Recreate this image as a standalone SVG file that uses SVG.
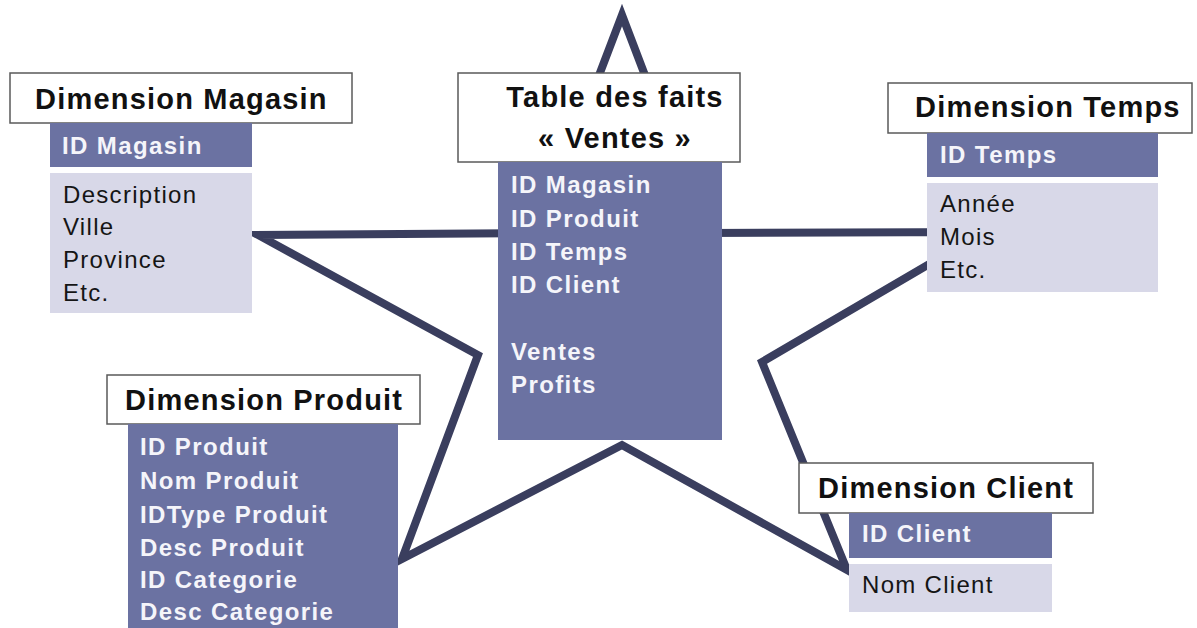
<svg xmlns="http://www.w3.org/2000/svg" width="1197" height="628" viewBox="0 0 1197 628">
<style>
.title{fill:#fff;stroke:#5a5a5a;stroke-width:1.5}
.tt{font-family:"Liberation Sans",Arial,sans-serif;font-weight:bold;font-size:29px;letter-spacing:1.2px;fill:#111}
.key{fill:#6b72a2}
.attr{fill:#d8d8e8}
.kt{font-family:"Liberation Sans",Arial,sans-serif;font-weight:bold;font-size:24px;letter-spacing:1.4px;fill:#f5f5fa}
.at{font-family:"Liberation Sans",Arial,sans-serif;font-size:24px;letter-spacing:1.3px;fill:#151515}
.star{fill:none;stroke:#3a3e5e;stroke-width:8;stroke-linejoin:miter}
</style>
<rect width="1197" height="628" fill="#fff"/>
<g id="connectors">
<polygon class="star" points="622,15 705,233 984,232 762,362 847,570 622,445 402,559 478,355 258,235 539,233"/>
</g>
<g id="fact">
<rect class="title" x="458" y="73" width="282" height="89"/>
<text class="tt" x="615" y="107" text-anchor="middle">Table des faits</text>
<text class="tt" x="615" y="148" text-anchor="middle">« Ventes »</text>
<rect class="key" x="498" y="162" width="224" height="278"/>
<text class="kt" x="511" y="193">ID Magasin</text>
<text class="kt" x="511" y="227">ID Produit</text>
<text class="kt" x="511" y="260">ID Temps</text>
<text class="kt" x="511" y="293">ID Client</text>
<text class="kt" x="511" y="360">Ventes</text>
<text class="kt" x="511" y="393">Profits</text>
</g>
<g id="magasin">
<rect class="title" x="10" y="73" width="342" height="50"/>
<text class="tt" x="35" y="109">Dimension Magasin</text>
<rect class="key" x="50" y="123" width="202" height="44"/>
<text class="kt" x="62" y="154">ID Magasin</text>
<rect class="attr" x="50" y="173" width="202" height="140"/>
<text class="at" x="63" y="203">Description</text>
<text class="at" x="63" y="235">Ville</text>
<text class="at" x="63" y="268">Province</text>
<text class="at" x="63" y="301">Etc.</text>
</g>
<g id="temps">
<rect class="title" x="888" y="83" width="304" height="50"/>
<text class="tt" x="915" y="117">Dimension Temps</text>
<rect class="key" x="927" y="133" width="231" height="44"/>
<text class="kt" x="940" y="163">ID Temps</text>
<rect class="attr" x="927" y="183" width="231" height="109"/>
<text class="at" x="940" y="212">Année</text>
<text class="at" x="940" y="245">Mois</text>
<text class="at" x="940" y="278">Etc.</text>
</g>
<g id="produit">
<rect class="title" x="107" y="375" width="313" height="49"/>
<text class="tt" x="125" y="410">Dimension Produit</text>
<rect class="key" x="128" y="424" width="270" height="204"/>
<text class="kt" x="140" y="455">ID Produit</text>
<text class="kt" x="140" y="489">Nom Produit</text>
<text class="kt" x="140" y="523">IDType Produit</text>
<text class="kt" x="140" y="556">Desc Produit</text>
<text class="kt" x="140" y="588">ID Categorie</text>
<text class="kt" x="140" y="620">Desc Categorie</text>
</g>
<g id="client">
<rect class="title" x="799" y="463" width="294" height="50"/>
<text class="tt" x="818" y="498">Dimension Client</text>
<rect class="key" x="849" y="513" width="203" height="45"/>
<text class="kt" x="862" y="542">ID Client</text>
<rect class="attr" x="849" y="564" width="203" height="48"/>
<text class="at" x="862" y="593">Nom Client</text>
</g>
</svg>
